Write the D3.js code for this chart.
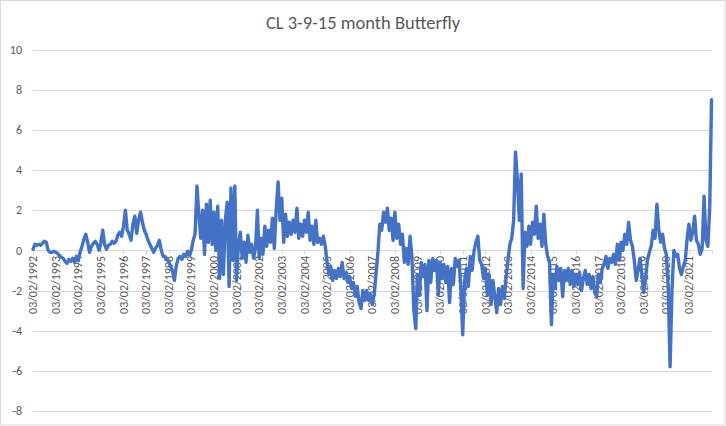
<!DOCTYPE html>
<html>
<head>
<meta charset="utf-8">
<script src="https://cdn.jsdelivr.net/npm/d3@7"></script>
<style>
	body{margin:0;background:#ffffff;}
	#butterflywrap svg{display:block;}
</style>
</head>
<body>
<div id="butterflywrap"></div>
<script>
//chart text
var chartTitle = "CL 3-9-15 month Butterfly";

//value axis ticks
var yTicks = [-8, -6, -4, -2, 0, 2, 4, 6, 8, 10];

//category axis: one labelled tick per year, first reading on this date, one reading a month
var firstDate = "1992-03-02";
var tickYears = [1992, 1993, 1994, 1995, 1996, 1997, 1998, 1999, 2000, 2001,
	2002, 2003, 2004, 2005, 2006, 2007, 2008, 2009, 2010, 2011,
	2012, 2013, 2014, 2015, 2016, 2017, 2018, 2019, 2020, 2021];

//butterfly readings, one row per year (mar..feb)
var spread = [
	0.05, 0.3, 0.25, 0.3, 0.25, 0.35, 0.45, 0.4, 0.0, -0.1, -0.1, -0.05,
	-0.1, -0.15, -0.25, -0.35, -0.4, -0.55, -0.65, -0.45, -0.55, -0.4, -0.6, -0.3,
	-0.5, -0.1, 0.2, 0.55, 0.8, 0.4, -0.1, 0.2, 0.35, 0.45, 0.3, 0.0,
	0.35, 1.0, 0.3, 0.05, 0.25, 0.3, 0.45, 0.35, 0.45, 0.75, 0.9, 0.7,
	1.2, 2.0, 1.0, 0.8, 0.5, 1.3, 1.7, 0.85, 1.5, 1.9, 1.4, 1.0,
	0.8, 0.5, 0.3, 0.1, -0.1, 0.1, 0.25, 0.5, 0.0, -0.3, -0.3, -0.45,
	-0.55, -0.8, -1.0, -1.5, -0.8, -0.4, -0.3, -0.45, -0.2, -0.3, -0.05, -0.25,
	0.0, 0.5, 0.8, 3.2, 1.8, 0.6, 2.0, -0.2, 2.3, 0.4, 2.5, 0.3,
	1.9, 0.0, 2.2, -1.4, 1.5, -1.2, 1.5, 2.4, -1.8, 3.1, -0.5, 3.2,
	-1.5, 0.3, 0.9, -0.4, 0.4, -0.6, 0.75, -0.1, 0.3, -0.4, 0.1, 2.0,
	-0.4, 0.6, -0.2, 1.2, 0.2, 1.0, 0.4, 1.6, 0.1, 2.0, 3.4, 1.5,
	2.6, 0.4, 1.8, 0.7, 1.4, 0.8, 1.5, 0.9, 2.1, 0.6, 1.3, 0.7,
	1.5, 0.9, 1.9, 0.5, 1.2, 0.3, 1.5, 0.4, 0.6, 0.3, 0.7, 0.2,
	-0.6, -1.2, -0.8, -1.5, -1.0, -1.4, -0.9, -1.3, -0.6, -1.4, -1.1, -1.6,
	-1.3, -1.9, -1.6, -2.3, -1.8, -2.6, -2.9, -2.0, -2.5, -2.0, -2.5, -2.2,
	-2.7, -2.2, -1.2, -0.1, 1.3, 1.0, 1.9, 1.4, 2.1, 1.0, 1.6, 0.5,
	1.9, 0.6, 1.3, 0.3, 0.8, -0.6, 0.1, -0.7, 0.7, -0.3, -3.0, -3.9,
	-1.2, -2.2, -0.6, -1.3, -0.7, -3.0, -0.5, -1.6, -0.4, -1.0, -0.5, -2.2,
	-0.6, -1.4, -0.7, -1.6, -0.8, -2.6, -0.9, -1.7, -0.4, -0.8, -0.5, -2.0,
	-4.2, -1.5, -0.9, -1.8, -0.3, -1.0, 0.0, 0.4, 0.7, -0.5, -0.7, -1.4,
	-0.9, -2.2, -1.2, -2.7, -1.5, -2.3, -3.1, -1.9, -2.7, -1.8, -2.4, -1.3,
	-0.5, 0.3, 0.6, 1.5, 4.9, 3.5, 1.5, 3.8, -1.9, 0.9, 0.2, 1.2,
	0.3, 1.4, 0.8, 2.2, 0.6, 1.3, 0.2, 1.8, 0.3, -0.3, -0.6, -3.7,
	-1.2, -1.9, -0.8, -1.5, -0.9, -2.3, -1.0, -1.5, -0.9, -1.7, -1.0, -1.8,
	-1.2, -1.7, -1.1, -2.0, -1.4, -1.0, -1.7, -1.2, -1.9, -1.3, -2.1, -2.3,
	-1.2, -1.6, -0.9, -0.7, -0.3, -0.9, -0.4, -0.6, -0.2, -0.7, 0.3, -0.5,
	0.4, 0.0, 0.8, 0.3, 1.4, 0.5, 0.2, -0.5, -1.5, -1.0, -0.4, -1.2,
	-2.1, -1.4, -0.5, -0.1, 0.2, 1.0, 0.6, 2.3, 1.0, 0.4, 0.8, 0.1,
	-0.2, -1.8, -5.8, -2.0, 0.0, -0.3, -0.2, -0.9, -1.2, -0.8, -0.5, 0.6,
	1.3, 0.5, 0.9, 1.7, 0.5, 0.3, -0.2, 0.1, 2.7, 0.5, 0.2, 2.2,
	7.5
];

(function(){

	var dom = {};
	var W = 726, H = 426;
	var plot = {left:33, right:711.5, top:49.5, bottom:411};
	var gridColor = "#d9d9d9";
	var textColor = "#595959";
	var font = "Carlito, Calibri, Lato, 'Liberation Sans', sans-serif";

	var parse = d3.timeParse("%Y-%m-%d");
	var start = parse(firstDate);

	//monthly dates for the readings
	var rows = spread.map(function(v, i){
		return {date: d3.timeMonth.offset(start, i), value: v};
	});
	var end = rows[rows.length-1].date;

	//yearly ticks (last one closes the axis, no label)
	var ticks = tickYears.map(function(yr, i){
		return {date: d3.timeMonth.offset(start, i*12), label: "03/02/" + yr};
	});
	ticks.push({date: d3.timeMonth.offset(start, tickYears.length*12), label: ""});

	var x = d3.scaleTime().domain([start, end]).range([plot.left, plot.right]);
	var y = d3.scaleLinear().domain([-8, 10]).range([plot.bottom, plot.top]);

	dom.svg = d3.select("#butterflywrap").append("svg")
		.attr("width", W).attr("height", H)
		.style("font-family", font);

	//outer chart border
	dom.svg.append("rect")
		.attr("x", 0.5).attr("y", 0.5)
		.attr("width", W-1.5).attr("height", H-1.5)
		.attr("fill", "#ffffff").attr("stroke", gridColor);

	//title
	dom.svg.append("text")
		.attr("x", 363).attr("y", 29)
		.attr("text-anchor", "middle")
		.attr("fill", textColor)
		.style("font-size", "18.5px")
		.text(chartTitle);

	//horizontal gridlines + value labels
	var gy = dom.svg.append("g");
	gy.selectAll("line").data(yTicks).enter().append("line")
		.attr("x1", plot.left).attr("x2", plot.right + 0.5)
		.attr("y1", function(d){return Math.round(y(d)) + 0.5})
		.attr("y2", function(d){return Math.round(y(d)) + 0.5})
		.attr("stroke", gridColor).attr("stroke-width", 1);
	gy.selectAll("text").data(yTicks).enter().append("text")
		.attr("x", 22).attr("y", function(d){return y(d)})
		.attr("dy", "0.35em")
		.attr("text-anchor", "end")
		.attr("fill", textColor)
		.style("font-size", "12px")
		.text(function(d){return d});

	//date axis sits on the zero line
	var y0 = Math.round(y(0)) + 0.5;
	var gx = dom.svg.append("g");
	gx.selectAll("line").data(ticks).enter().append("line")
		.attr("x1", function(d){return Math.round(x(d.date)) + 0.5})
		.attr("x2", function(d){return Math.round(x(d.date)) + 0.5})
		.attr("y1", y0).attr("y2", y0 + 4)
		.attr("stroke", gridColor);
	gx.selectAll("text").data(ticks).enter().append("text")
		.attr("transform", function(d){return "translate(" + x(d.date) + "," + (y0 + 5.5) + ") rotate(-90)"})
		.attr("dy", "0.35em")
		.attr("text-anchor", "end")
		.attr("fill", textColor)
		.style("font-size", "12px")
		.text(function(d){return d.label});

	//the series
	var line = d3.line()
		.x(function(d){return x(d.date)})
		.y(function(d){return y(d.value)});

	dom.svg.append("path")
		.datum(rows)
		.attr("d", line)
		.attr("fill", "none")
		.attr("stroke", "#4472c4")
		.attr("stroke-width", 3.4)
		.attr("stroke-linejoin", "round")
		.attr("stroke-linecap", "round");

})(); //end of closure
</script>
</body>
</html>
